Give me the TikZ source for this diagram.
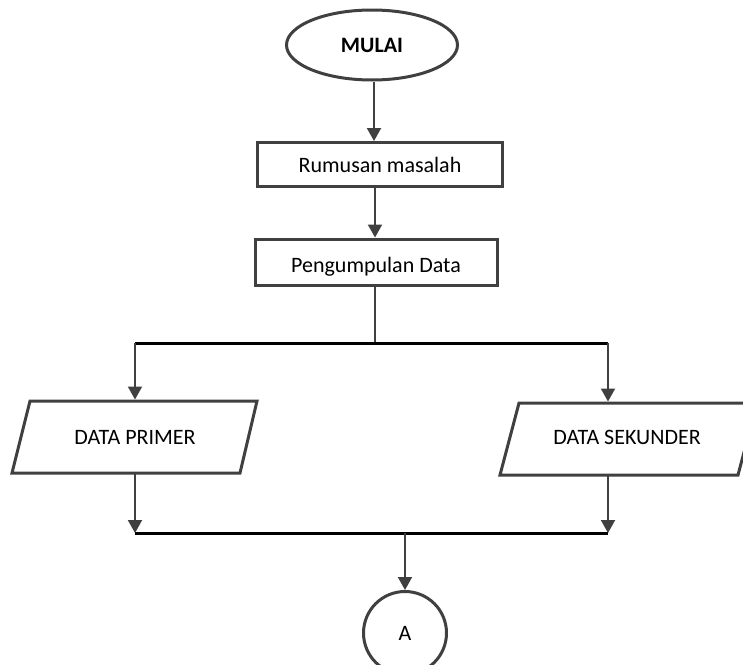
\documentclass[tikz,border=0pt]{standalone}
\usepackage{fontspec}
\setmainfont{Carlito}
\usetikzlibrary{shapes.geometric,arrows.meta}
\definecolor{lc}{HTML}{404040}
\begin{document}
\begin{tikzpicture}[x=1pt,y=-1pt,
  font=\fontsize{22}{24}\selectfont,
  outl/.style={draw=lc, line width=3pt, fill=white, inner sep=0pt},
  procbox/.style={outl, rectangle, minimum height=44pt},
  ioshape/.style={draw=lc, line width=3pt, fill=white, line join=miter},
  flow/.style={draw=lc, line width=2pt, -{Triangle[width=14pt,length=13pt]}},
  bus/.style={draw=black, line width=3pt},
  plain/.style={draw=lc, line width=2pt}]
\useasboundingbox (0,0) rectangle (743,664);
\clip (0,0) rectangle (743,664);
\node[outl, ellipse, minimum width=171pt, minimum height=70pt, font=\fontsize{22}{24}\selectfont\bfseries] (mulai) at (372,45) {MULAI};
\node[procbox, minimum width=245pt] (rumusan) at (380,164.5) {Rumusan masalah};
\node[procbox, minimum width=242pt, minimum height=46pt] (kumpul) at (376,262) {};
\node[yshift=-5pt] (kumpultext) at (kumpul.center) {Pengumpulan Data};
% parallelograms
\coordinate (p1) at (30,401); \coordinate (p2) at (257,401);
\coordinate (p3) at (240,473); \coordinate (p4) at (12,473);
\draw[ioshape] (p1) -- (p2) -- (p3) -- (p4) -- cycle;
\node (primer) at (135,437) {DATA PRIMER};
\coordinate (s1) at (519,403); \coordinate (s2) at (757,403);
\coordinate (s3) at (738,475); \coordinate (s4) at (500,475);
\draw[ioshape] (s1) -- (s2) -- (s3) -- (s4) -- cycle;
\node (sekunder) at (627,437) {DATA SEKUNDER};
\node[outl, circle, minimum size=83pt] (a) at (405,633) {A};
\coordinate (j0) at (375,343);
\coordinate (jl) at (135,343);
\coordinate (jr) at (608,343);
\coordinate (kl) at (135,533);
\coordinate (kr) at (608,533);
\coordinate (km) at (405,533);
\draw[flow] (mulai.south -| 374,0) -- (rumusan.north -| 374,0);
\draw[flow] (rumusan.south -| 375,0) -- (kumpul.north -| 375,0);
\draw[plain] (kumpul.south -| j0) -- (j0);
\draw[bus] (jl) -- (jr);
\draw[flow] (jl) -- ([yshift=1.5pt]jl |- p1);
\draw[flow] (jr) -- ([yshift=1.5pt]jr |- s1);
\draw[flow] ([yshift=1.5pt]kl |- p4) -- (kl);
\draw[flow] ([yshift=1.5pt]kr |- s4) -- (kr);
\draw[bus] (kl) -- (kr);
\draw[flow] (km) -- (a.north);
\end{tikzpicture}
\end{document}
